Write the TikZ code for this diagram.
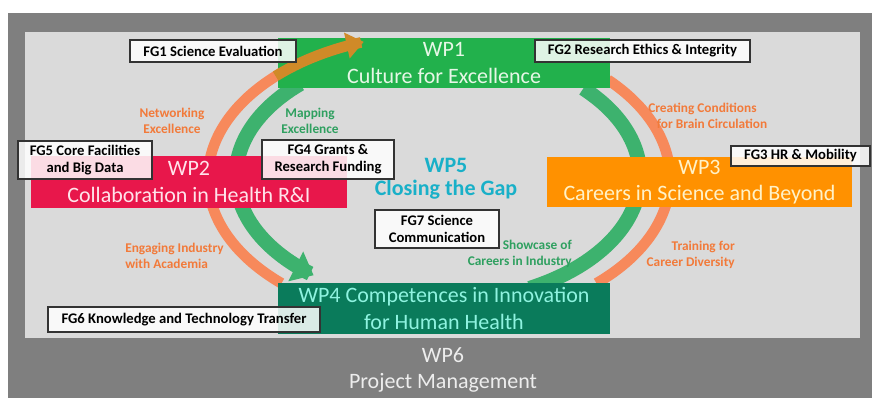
\documentclass[tikz,border=0pt]{standalone}
\usepackage{fontspec}
\setmainfont{Carlito}
\usetikzlibrary{arrows.meta}
\definecolor{framegray}{HTML}{7F7F7F}
\definecolor{panelgray}{HTML}{DADADA}
\definecolor{wpone}{HTML}{22B14C}
\definecolor{wptwo}{HTML}{E8174B}
\definecolor{wpthree}{HTML}{FF9100}
\definecolor{wpfour}{HTML}{0A7B5B}
\definecolor{arcorange}{HTML}{F7895B}
\definecolor{arcbrown}{HTML}{D08A28}
\definecolor{arcgreen}{HTML}{3DB26E}
\definecolor{lblorange}{HTML}{F27A3A}
\definecolor{lblgreen}{HTML}{2FA060}
\definecolor{wpfive}{HTML}{19B0C8}
\definecolor{wponetext}{HTML}{E6F7E6}
\definecolor{wptwotext}{HTML}{FFE3EA}
\definecolor{wpthreetext}{HTML}{FFF2C8}
\definecolor{wpfourtext}{HTML}{8FF3E0}
\definecolor{wpsixtext}{HTML}{EDEDED}
\begin{document}
\begin{tikzpicture}[x=0.75pt,y=-0.75pt,
  wpbox/.style={inner sep=0pt, align=center, font=\fontsize{16.5}{20}\selectfont},
  fgbox/.style={draw=black!80, line width=1pt, fill=white, fill opacity=0.85, text opacity=1, inner sep=0pt, align=center, font=\bfseries\fontsize{11}{13}\selectfont},
  lbl/.style={inner sep=0pt, font=\bfseries\fontsize{10}{12}\selectfont},
  orarc/.style={draw=arcorange, line width=8pt},
  grarc/.style={draw=arcgreen, line width=11pt},
]
% background and frame
\fill[white] (0,0) rectangle (872,398);
\fill[framegray] (8,13) rectangle (872,398);
\fill[panelgray] (25,32) rectangle (860,338);

% arcs (under the boxes)
\draw[orarc] plot[domain=227:133, samples=60, smooth] ({439+231*cos(\x)},{178-144*sin(\x)});
\draw[orarc] plot[domain=-47:43, samples=60, smooth] ({439+231*cos(\x)},{178-144*sin(\x)});
\draw[grarc, -{Triangle[length=15pt,width=24pt]}] plot[domain=133:232, samples=60, smooth] ({438+202*cos(\x)},{176-126*sin(\x)});
\draw[grarc] plot[domain=-63:44, samples=60, smooth] ({438+202*cos(\x)},{176-126*sin(\x)});

% work packages
\node[wpbox, fill=wpone, text=wponetext, minimum width=249pt, minimum height=37.5pt] (wp1) at (444,63) {WP1\\Culture for Excellence};
\node[wpbox, fill=wptwo, text=wptwotext, minimum width=237pt, minimum height=39pt] (wp2) at (189,182) {WP2\\Collaboration in Health R\&I};
\node[wpbox, fill=wpthree, text=wpthreetext, minimum width=228.75pt, minimum height=37.5pt] (wp3) at (699.5,182) {WP3\\Careers in Science and Beyond};
\node[wpbox, fill=wpfour, text=wpfourtext, minimum width=249pt, minimum height=38.25pt] (wp4) at (444,308.5) {WP4 Competences in Innovation\\for Human Health};

% orange arrow over WP1
\draw[draw=arcbrown, line width=8pt, -{Triangle[length=13pt,width=19pt]}] plot[domain=135:109, samples=30, smooth] ({439+231*cos(\x)},{178-144*sin(\x)});

% WP5 and WP6
\node[inner sep=0pt, align=center, text=wpfive, font=\bfseries\fontsize{16.5}{17.5}\selectfont] (wp5) at (446,178.5) {WP5\\Closing the Gap};
\node[inner sep=0pt, align=center, text=wpsixtext, font=\fontsize{16.5}{19.5}\selectfont] (wp6) at (443,370) {WP6\\Project Management};

% focus groups
\node[fgbox, minimum width=124.5pt, minimum height=16.5pt] (fg1) at (213,51) {FG1 Science Evaluation};
\node[fgbox, minimum width=161.25pt, minimum height=16.5pt] (fg2) at (642.5,51) {FG2 Research Ethics \& Integrity};
\node[fgbox, minimum width=104.25pt, minimum height=15pt] (fg3) at (800.5,156) {FG3 HR \& Mobility};
\node[fgbox, minimum width=99pt, minimum height=29.25pt] (fg4) at (328,159.5) {FG4 Grants \&\\Research Funding};
\node[fgbox, minimum width=100.5pt, minimum height=28.5pt] (fg5) at (85,160) {FG5 Core Facilities\\and Big Data};
\node[fgbox, minimum width=204pt, minimum height=18.75pt] (fg6) at (184,319.5) {FG6 Knowledge and Technology Transfer};
\node[fgbox, minimum width=93pt, minimum height=28.5pt] (fg7) at (437,229) {FG7 Science\\Communication};

% arc labels
\node[lbl, text=lblorange, align=center] (lnet) at (172,121) {Networking\\Excellence};
\node[lbl, text=lblgreen, align=center] (lmap) at (310,121) {Mapping\\Excellence};
\node[lbl, text=lblorange, align=left, anchor=west] (lcre) at (648,116) {Creating Conditions\\\hspace*{6.5pt}for Brain Circulation};
\node[lbl, text=lblorange, align=left, anchor=west] (leng) at (125,256) {Engaging Industry\\with Academia};
\node[lbl, text=lblgreen, align=right, anchor=east] (lsho) at (572,254) {Showcase of\\Careers in Industry};
\node[lbl, text=lblorange, align=right, anchor=east] (ltra) at (735,255) {Training for\\Career Diversity};
\end{tikzpicture}
\end{document}
